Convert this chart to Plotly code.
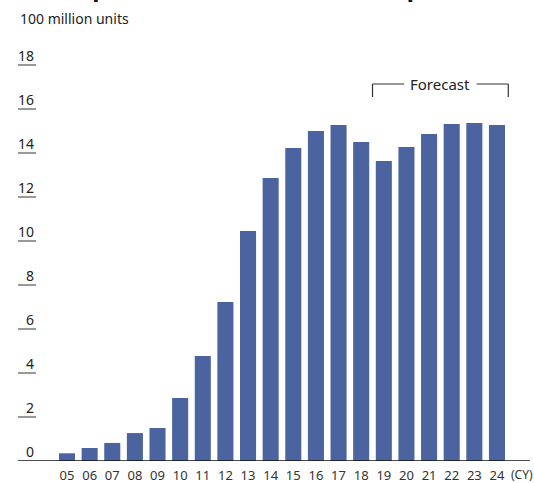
import plotly.graph_objects as go

# Annual shipments, 100 million units (CY2005-CY2024; 2019 onward is forecast)
years = ["05", "06", "07", "08", "09", "10", "11", "12", "13", "14",
         "15", "16", "17", "18", "19", "20", "21", "22", "23", "24"]
shipments = [0.35, 0.59, 0.82, 1.27, 1.5, 2.86, 4.77, 7.23, 10.45, 12.86,
             14.23, 15.0, 15.27, 14.5, 13.64, 14.27, 14.86, 15.32, 15.36, 15.27]
y_ticks = [0, 2, 4, 6, 8, 10, 12, 14, 16, 18]
forecast_start, forecast_end = "19", "24"

FONT = "Noto Sans"
TEXT = "#222222"
BAR = "#4b64a0"

W, H = 534, 483
ML, MR, MT, MB = 18, 4, 40, 22
plot_w = W - ML - MR
plot_h = H - MT - MB
step = 22.63            # pixels per category
px_per_unit = 22.0      # pixels per 100 million units

x_lo = -(67 - ML) / step
x_hi = x_lo + plot_w / step
y_hi = plot_h / px_per_unit

fig = go.Figure(go.Bar(
    x=years, y=shipments, marker=dict(color=BAR, line=dict(width=0)),
    width=0.71, hoverinfo="skip",
))

shapes = []
annotations = []

# y-axis: short underline beneath each value label
tick_len = 18 / step
for v in y_ticks:
    if v > 0:
        shapes.append(dict(type="line", xref="x", yref="y",
                           x0=x_lo, x1=x_lo + tick_len, y0=v, y1=v,
                           line=dict(color="#555555", width=1.2)))
    annotations.append(dict(xref="x", yref="y", x=x_lo + tick_len, y=v,
                            text=str(v), showarrow=False, xanchor="right",
                            yanchor="bottom", yshift=-2,
                            font=dict(family=FONT, size=14, color=TEXT)))

# baseline
shapes.append(dict(type="line", xref="paper", yref="y", x0=0, x1=1, y0=0, y1=0,
                   line=dict(color="#111111", width=1.6)))

# forecast bracket
i0 = years.index(forecast_start) - 0.5
i1 = years.index(forecast_end) + 0.5
mid = (i0 + i1) / 2
yb = (461 - 84) / px_per_unit
yd = (461 - 97) / px_per_unit
gap = 1.6
line_style = dict(color="#333333", width=1.2)
shapes += [
    dict(type="line", xref="x", yref="y", x0=i0, x1=i0, y0=yd, y1=yb, line=line_style),
    dict(type="line", xref="x", yref="y", x0=i0, x1=mid - gap, y0=yb, y1=yb, line=line_style),
    dict(type="line", xref="x", yref="y", x0=mid + gap, x1=i1, y0=yb, y1=yb, line=line_style),
    dict(type="line", xref="x", yref="y", x0=i1, x1=i1, y0=yd, y1=yb, line=line_style),
]
annotations.append(dict(xref="x", yref="y", x=mid, y=yb, text="Forecast",
                        showarrow=False, xanchor="center", yanchor="middle",
                        font=dict(family=FONT, size=15, color=TEXT)))

# unit label and calendar-year marker
annotations.append(dict(xref="paper", yref="paper", x=0, y=1 + (MT - 18) / plot_h,
                        text="100 million units", showarrow=False,
                        xanchor="left", yanchor="middle",
                        font=dict(family=FONT, size=14, color=TEXT)))
annotations.append(dict(xref="x", yref="paper", x=len(years) - 1 + 1.1, y=0,
                        text="(CY)", showarrow=False, xanchor="center",
                        yanchor="middle", yshift=-13, borderpad=0,
                        font=dict(family=FONT, size=12, color="#333333")))

# chart title, set high at the top edge
annotations.append(dict(xref="paper", yref="paper", x=0, y=1 + (MT - 5) / plot_h,
                        text="<b>Smartphone market volume (shipments)</b>",
                        showarrow=False, xanchor="left", yanchor="bottom",
                        font=dict(family=FONT, size=24, color="#111111")))

fig.update_layout(
    width=W, height=H,
    margin=dict(l=ML, r=MR, t=MT, b=MB, pad=0, autoexpand=False),
    paper_bgcolor="white", plot_bgcolor="white",
    showlegend=False,
    bargap=0.29,
    xaxis=dict(type="category", range=[x_lo, x_hi], showgrid=False,
               zeroline=False, showline=False, ticks="", ticklabelstandoff=5,
               automargin=False,
               tickfont=dict(family=FONT, size=13, color="#333333")),
    yaxis=dict(range=[0, y_hi], showgrid=False, zeroline=False,
               showline=False, showticklabels=False, ticks="", automargin=False),
    shapes=shapes,
    annotations=annotations,
)

fig.write_html("out.html")
